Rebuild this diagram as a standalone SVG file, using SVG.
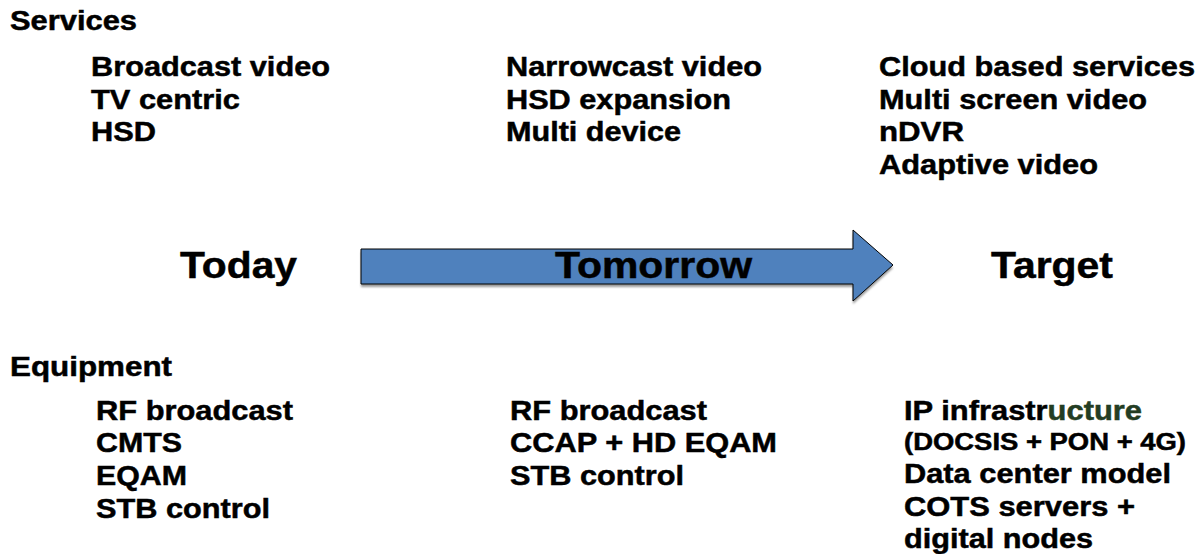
<svg xmlns="http://www.w3.org/2000/svg" width="1202" height="554" viewBox="0 0 1202 554">
  <style>
    text { font-family: "Liberation Sans", Arial, sans-serif; font-weight: bold; fill: #000; stroke: #000; stroke-width: 0.5px; }
    .head { font-size: 27px; }
    .item { font-size: 28px; }
    .small { font-size: 23px; }
    .stage { font-size: 37px; }
    .green { fill: #233d23; stroke: #233d23; }
  </style>
  <defs>
    <filter id="shadow" x="-5%" y="-20%" width="110%" height="150%">
      <feGaussianBlur stdDeviation="1"/>
    </filter>
  </defs>
  <rect width="1202" height="554" fill="#fff"/>

  <!-- Section headings -->
  <g id="services-heading">
    <text class="head" x="10" y="30" textLength="127" lengthAdjust="spacingAndGlyphs">Services</text>
  </g>
  <g id="equipment-heading">
    <text class="head" x="10" y="376" textLength="162" lengthAdjust="spacingAndGlyphs">Equipment</text>
  </g>

  <!-- Services per stage -->
  <g id="services-today">
    <text class="item" x="91" y="76" textLength="239" lengthAdjust="spacingAndGlyphs">Broadcast video</text>
    <text class="item" x="91" y="109" textLength="149" lengthAdjust="spacingAndGlyphs">TV centric</text>
    <text class="item" x="91" y="141" textLength="65" lengthAdjust="spacingAndGlyphs">HSD</text>
  </g>
  <g id="services-tomorrow">
    <text class="item" x="506" y="76" textLength="256" lengthAdjust="spacingAndGlyphs">Narrowcast video</text>
    <text class="item" x="506" y="109" textLength="225" lengthAdjust="spacingAndGlyphs">HSD expansion</text>
    <text class="item" x="506" y="141" textLength="175" lengthAdjust="spacingAndGlyphs">Multi device</text>
  </g>
  <g id="services-target">
    <text class="item" x="879" y="76" textLength="316" lengthAdjust="spacingAndGlyphs">Cloud based services</text>
    <text class="item" x="879" y="109" textLength="268" lengthAdjust="spacingAndGlyphs">Multi screen video</text>
    <text class="item" x="879" y="141" textLength="85" lengthAdjust="spacingAndGlyphs">nDVR</text>
    <text class="item" x="879" y="174" textLength="219" lengthAdjust="spacingAndGlyphs">Adaptive video</text>
  </g>

  <!-- Timeline arrow -->
  <g id="connectors">
    <polygon points="361,252 853,252 853,233 893,268 853,304 853,287 361,287" fill="#9a9a9a" filter="url(#shadow)"/>
    <polygon points="361,249 853,249 853,230 893,265 853,301 853,284 361,284" fill="#4f81bd" stroke="#000" stroke-width="1"/>
  </g>

  <!-- Stage labels -->
  <g id="stage-today">
    <text class="stage" x="180" y="278" textLength="117" lengthAdjust="spacingAndGlyphs">Today</text>
  </g>
  <g id="stage-tomorrow">
    <text class="stage" x="555" y="278" textLength="197" lengthAdjust="spacingAndGlyphs">Tomorrow</text>
  </g>
  <g id="stage-target">
    <text class="stage" x="991" y="278" textLength="122" lengthAdjust="spacingAndGlyphs">Target</text>
  </g>

  <!-- Equipment per stage -->
  <g id="equipment-today">
    <text class="item" x="96" y="420" textLength="197" lengthAdjust="spacingAndGlyphs">RF broadcast</text>
    <text class="item" x="96" y="452" textLength="86" lengthAdjust="spacingAndGlyphs">CMTS</text>
    <text class="item" x="96" y="485" textLength="91" lengthAdjust="spacingAndGlyphs">EQAM</text>
    <text class="item" x="96" y="518" textLength="174" lengthAdjust="spacingAndGlyphs">STB control</text>
  </g>
  <g id="equipment-tomorrow">
    <text class="item" x="510" y="420" textLength="197" lengthAdjust="spacingAndGlyphs">RF broadcast</text>
    <text class="item" x="510" y="452" textLength="267" lengthAdjust="spacingAndGlyphs">CCAP + HD EQAM</text>
    <text class="item" x="510" y="485" textLength="174" lengthAdjust="spacingAndGlyphs">STB control</text>
  </g>
  <g id="equipment-target">
    <text class="item" x="904" y="420" textLength="238" lengthAdjust="spacingAndGlyphs">IP infrastr<tspan class="green">ucture</tspan></text>
    <text class="small" x="904" y="450" textLength="282" lengthAdjust="spacingAndGlyphs">(DOCSIS + PON + 4G)</text>
    <text class="item" x="904" y="483" textLength="267" lengthAdjust="spacingAndGlyphs">Data center model</text>
    <text class="item" x="904" y="516" textLength="231" lengthAdjust="spacingAndGlyphs">COTS servers +</text>
    <text class="item" x="904" y="548" textLength="189" lengthAdjust="spacingAndGlyphs">digital nodes</text>
  </g>
</svg>
